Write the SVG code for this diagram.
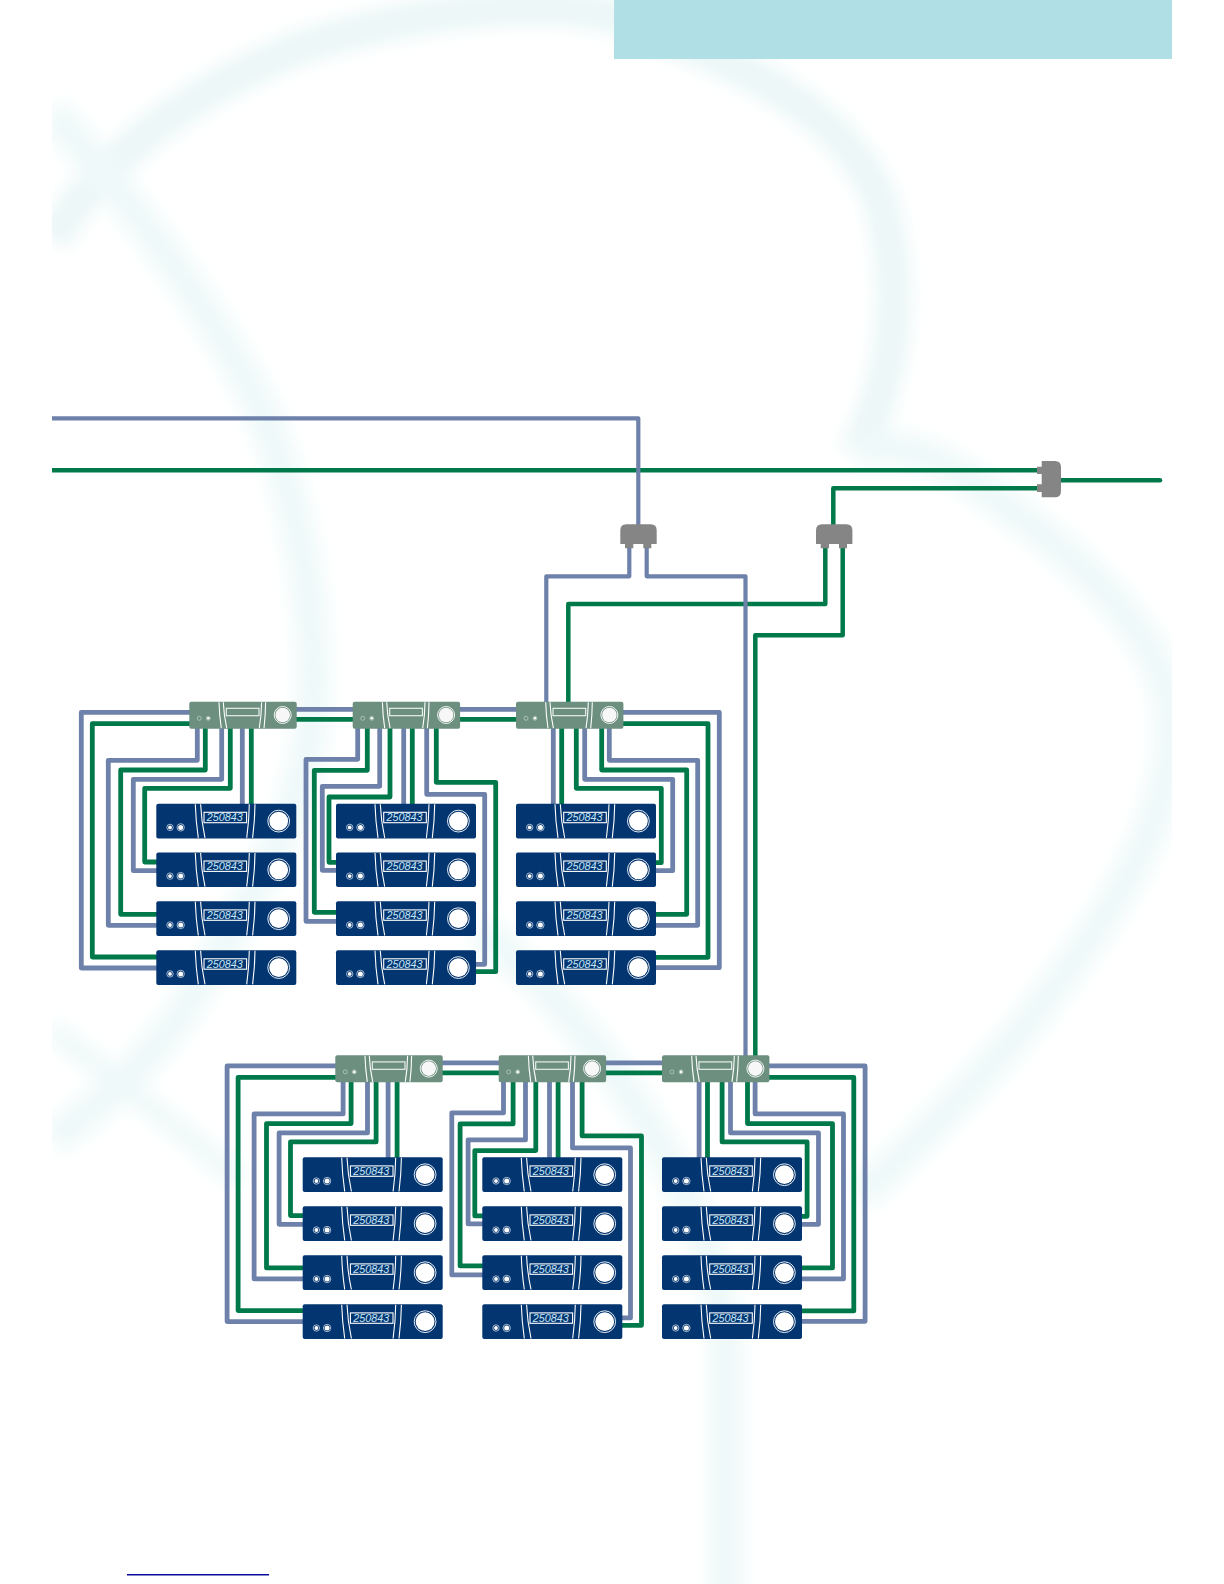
<svg xmlns="http://www.w3.org/2000/svg" width="1224" height="1584" viewBox="0 0 1224 1584">
<style>
.b{fill:none;stroke:#6d81aa;stroke-width:4.8;stroke-linejoin:round}
.g{fill:none;stroke:#00794a;stroke-width:4.8;stroke-linejoin:round}
.mb{stroke-width:4.2}
.mg{stroke-width:4.5}
.wm{fill:none;stroke:#f0f9f9;stroke-width:36}
.ln{fill:none;stroke:#fff;stroke-width:1.1}
.lcd{font-family:"Liberation Sans",Arial,sans-serif;font-style:italic;font-size:10.8px;fill:#c4e6f8}
.sp{fill:#858585}
</style>
<defs>
<filter id="soft" x="-10%" y="-10%" width="120%" height="120%"><feGaussianBlur stdDeviation="8"/></filter>
<clipPath id="page"><rect x="52" y="0" width="1120" height="1584"/></clipPath>
<g id="meter">
<rect width="140" height="34.7" rx="2" fill="#033570"/>
<circle cx="13.7" cy="23.7" r="3.2" fill="none" stroke="#dfeaf3" stroke-width=".7"/><circle cx="13.7" cy="23.7" r="1.9" fill="#fff"/>
<circle cx="24.4" cy="23.7" r="3.7" fill="none" stroke="#dfeaf3" stroke-width=".7"/><circle cx="24.4" cy="23.7" r="2.5" fill="#fff"/>
<path class="ln" d="M39 0.5Q39.500 17 42 34.200M44.300 0.500Q45 17 48.700 34.200M98.700 0.500Q98.500 17 96.300 34.200M93 0.500Q92.800 17 90.400 34.200"/>
<rect x="47.700" y="8.600" width="42.600" height="10.400" fill="#033570" stroke="#fff" stroke-width="1.100"/>
<circle cx="122.400" cy="17.400" r="9.400" fill="#fff"/><circle cx="122.400" cy="17.400" r="10.900" fill="none" stroke="#fff" stroke-width=".9"/>
</g>
<g id="hub">
<rect width="107.400" height="27" rx="2" fill="#6c8f80"/>
<circle cx="10" cy="16.600" r="2" fill="none" stroke="#cfded8" stroke-width=".6"/><circle cx="19" cy="16.600" r="2" fill="none" stroke="#cfded8" stroke-width=".6"/><circle cx="19" cy="16.600" r="1.300" fill="#fff"/>
<path class="ln" d="M29.700 .5Q30 13 32 26.500M34 .5Q34.500 13 37.400 26.500M76.300 .5Q76.200 13 74.700 26.500M72.300 .5Q72.200 13 70 26.500"/>
<rect x="37" y="6.600" width="32.700" height="7.400" fill="#6c8f80" stroke="#f1f6f4" stroke-width="1.100"/>
<circle cx="93.400" cy="13.300" r="7.300" fill="#f7f7f7"/><circle cx="93.400" cy="13.300" r="8.500" fill="none" stroke="#fff" stroke-width=".9"/>
</g>
<path id="splitter" class="sp" d="M0 19.700V6Q0 0 6 0H30.400Q36.400 0 36.400 6V19.700H31V24H23V19.700H13V24H4.700V19.700Z"/>
</defs>

<g id="watermark" clip-path="url(#page)">
<g filter="url(#soft)">
<path class="wm" style="stroke:#ecf7f7" d="M52 240C100 160 190 90 300 48C400 14 560 -10 640 25C720 60 840 100 880 200C905 290 895 380 855 455"/>
<path class="wm" d="M52 112C120 190 200 290 258 402C300 500 318 620 312 710C305 820 250 900 180 1016C140 1070 100 1105 52 1140"/>
<path class="wm" d="M480 930C500 945 525 968 546 990C640 1090 720 1230 726 1348L726 1600"/>
<path class="wm" d="M855 455C900 430 960 470 1015 513C1100 575 1170 650 1171 720C1175 830 1100 930 1015 1038C960 1100 900 1160 859 1196"/>
<path class="wm" style="stroke-width:24" d="M52 1030C110 1075 170 1120 240 1180"/>
</g>
</g>

<rect id="title-band" x="614" y="0" width="558" height="59" fill="#b0e0e5"/>

<g id="connectors">
<g id="mains-green">
<path class="g mg" d="M52 470.300H1040"/>
<path class="g mg" d="M1040 488.300H833.300V526"/>
<path class="g mg" d="M1060 480.300H1160" stroke-linecap="round"/>
<path class="g mg" d="M825.300 546V604H568.300V704"/>
<path class="g mg" d="M842.700 546V635.300H755.300V1057"/>
</g>
<g id="mains-blue">
<path class="b mb" d="M52 418.300H638.300V526"/>
<path class="b mb" d="M629.300 546V576.300H546.300V704"/>
<path class="b mb" d="M646.700 546V576.300H745.500V1057"/>
</g>
<g id="wiring-upper">
<path class="b" d="M295 709.300H355M458 709.300H518"/>
<path class="g" d="M295 719.300H355M458 719.300H518"/>
<path class="b" d="M191 712.300H81.300V968H158"/>
<path class="g" d="M191 723.700H92.300V957H158"/>
<path class="b" d="M197.300 727V760.300H108.300V925.300H158"/>
<path class="g" d="M205.300 727V770H120.700V914.300H158"/>
<path class="b" d="M221.700 727V779.300H133.300V870.700H158"/>
<path class="g" d="M230.300 727V788.300H144.700V862H158"/>
<path class="b" d="M242.300 727V806"/>
<path class="g" d="M251.300 727V806"/>
<path class="b" d="M357.700 727V759.300H306V921.300H338"/>
<path class="g" d="M367.300 727V770.300H314.300V912.300H338"/>
<path class="b" d="M379.700 727V786.300H322.300V870.300H338"/>
<path class="g" d="M390 727V797H329V862.300H338"/>
<path class="b" d="M403.700 727V806"/>
<path class="g" d="M412.300 727V806"/>
<path class="b" d="M426.700 727V794.300H484.700V964.300H474"/>
<path class="g" d="M436.300 727V782.300H495.700V971.700H474"/>
<path class="b" d="M553.300 727V806"/>
<path class="g" d="M561.700 727V806"/>
<path class="g" d="M576.300 727V788.300H661.300V862.700H654"/>
<path class="b" d="M584.700 727V779.300H672.700V870.700H654"/>
<path class="g" d="M601.700 727V770H686.700V914.300H654"/>
<path class="b" d="M609.300 727V760.300H697.700V925.300H654"/>
<path class="g" d="M621 723.700H708V957.300H654"/>
<path class="b" d="M621 712.300H719.300V967.700H654"/>
</g>
<g id="wiring-lower" transform="translate(145.800,353.600)">
<path class="b" d="M295 709.300H355M458 709.300H518"/>
<path class="g" d="M295 719.300H355M458 719.300H518"/>
<path class="b" d="M191 712.300H81.300V968H158"/>
<path class="g" d="M191 723.700H92.300V957H158"/>
<path class="b" d="M197.300 727V760.300H108.300V925.300H158"/>
<path class="g" d="M205.300 727V770H120.700V914.300H158"/>
<path class="b" d="M221.700 727V779.300H133.300V870.700H158"/>
<path class="g" d="M230.300 727V788.300H144.700V862H158"/>
<path class="b" d="M242.300 727V806"/>
<path class="g" d="M251.300 727V806"/>
<path class="b" d="M357.700 727V759.300H306V921.300H338"/>
<path class="g" d="M367.300 727V770.300H314.300V912.300H338"/>
<path class="b" d="M379.700 727V786.300H322.300V870.300H338"/>
<path class="g" d="M390 727V797H329V862.300H338"/>
<path class="b" d="M403.700 727V806"/>
<path class="g" d="M412.300 727V806"/>
<path class="b" d="M426.700 727V794.300H484.700V964.300H474"/>
<path class="g" d="M436.300 727V782.300H495.700V971.700H474"/>
<path class="b" d="M553.300 727V806"/>
<path class="g" d="M561.700 727V806"/>
<path class="g" d="M576.300 727V788.300H661.300V862.700H654"/>
<path class="b" d="M584.700 727V779.300H672.700V870.700H654"/>
<path class="g" d="M601.700 727V770H686.700V914.300H654"/>
<path class="b" d="M609.300 727V760.300H697.700V925.300H654"/>
<path class="g" d="M621 723.700H708V957.300H654"/>
<path class="b" d="M621 712.300H719.300V967.700H654"/>
</g>
</g>

<g id="splitter-a" transform="translate(620.300,524.300)"><use href="#splitter"/></g>
<g id="splitter-b" transform="translate(816,524.300)"><use href="#splitter"/></g>
<g id="splitter-c"><path class="sp" d="M1041.700 461H1055Q1061 461 1061 467V491Q1061 497.300 1055 497.300H1041.700V492H1037V484.300H1041.700V474H1037V466.700H1041.700Z"/></g>

<g id="hub-1" transform="translate(189.300,701.700)"><use href="#hub"/></g>
<g id="hub-2" transform="translate(352.700,701.700)"><use href="#hub"/></g>
<g id="hub-3" transform="translate(516,701.700)"><use href="#hub"/></g>
<g id="hub-4" transform="translate(335.300,1055.300)"><use href="#hub"/></g>
<g id="hub-5" transform="translate(498.700,1055.300)"><use href="#hub"/></g>
<g id="hub-6" transform="translate(662,1055.300)"><use href="#hub"/></g>

<g id="meter-1-1" transform="translate(156.300,803.700)"><use href="#meter"/><text class="lcd" x="50.500" y="17.700">250843</text></g>
<g id="meter-1-2" transform="translate(156.300,852.400)"><use href="#meter"/><text class="lcd" x="50.500" y="17.700">250843</text></g>
<g id="meter-1-3" transform="translate(156.300,901.300)"><use href="#meter"/><text class="lcd" x="50.500" y="17.700">250843</text></g>
<g id="meter-1-4" transform="translate(156.300,950.200)"><use href="#meter"/><text class="lcd" x="50.500" y="17.700">250843</text></g>
<g id="meter-2-1" transform="translate(336,803.700)"><use href="#meter"/><text class="lcd" x="50.500" y="17.700">250843</text></g>
<g id="meter-2-2" transform="translate(336,852.400)"><use href="#meter"/><text class="lcd" x="50.500" y="17.700">250843</text></g>
<g id="meter-2-3" transform="translate(336,901.300)"><use href="#meter"/><text class="lcd" x="50.500" y="17.700">250843</text></g>
<g id="meter-2-4" transform="translate(336,950.200)"><use href="#meter"/><text class="lcd" x="50.500" y="17.700">250843</text></g>
<g id="meter-3-1" transform="translate(516,803.700)"><use href="#meter"/><text class="lcd" x="50.500" y="17.700">250843</text></g>
<g id="meter-3-2" transform="translate(516,852.400)"><use href="#meter"/><text class="lcd" x="50.500" y="17.700">250843</text></g>
<g id="meter-3-3" transform="translate(516,901.300)"><use href="#meter"/><text class="lcd" x="50.500" y="17.700">250843</text></g>
<g id="meter-3-4" transform="translate(516,950.200)"><use href="#meter"/><text class="lcd" x="50.500" y="17.700">250843</text></g>
<g id="meter-4-1" transform="translate(302.700,1157.300)"><use href="#meter"/><text class="lcd" x="50.500" y="17.700">250843</text></g>
<g id="meter-4-2" transform="translate(302.700,1206.300)"><use href="#meter"/><text class="lcd" x="50.500" y="17.700">250843</text></g>
<g id="meter-4-3" transform="translate(302.700,1255.300)"><use href="#meter"/><text class="lcd" x="50.500" y="17.700">250843</text></g>
<g id="meter-4-4" transform="translate(302.700,1304.300)"><use href="#meter"/><text class="lcd" x="50.500" y="17.700">250843</text></g>
<g id="meter-5-1" transform="translate(482.300,1157.300)"><use href="#meter"/><text class="lcd" x="50.500" y="17.700">250843</text></g>
<g id="meter-5-2" transform="translate(482.300,1206.300)"><use href="#meter"/><text class="lcd" x="50.500" y="17.700">250843</text></g>
<g id="meter-5-3" transform="translate(482.300,1255.300)"><use href="#meter"/><text class="lcd" x="50.500" y="17.700">250843</text></g>
<g id="meter-5-4" transform="translate(482.300,1304.300)"><use href="#meter"/><text class="lcd" x="50.500" y="17.700">250843</text></g>
<g id="meter-6-1" transform="translate(662,1157.300)"><use href="#meter"/><text class="lcd" x="50.500" y="17.700">250843</text></g>
<g id="meter-6-2" transform="translate(662,1206.300)"><use href="#meter"/><text class="lcd" x="50.500" y="17.700">250843</text></g>
<g id="meter-6-3" transform="translate(662,1255.300)"><use href="#meter"/><text class="lcd" x="50.500" y="17.700">250843</text></g>
<g id="meter-6-4" transform="translate(662,1304.300)"><use href="#meter"/><text class="lcd" x="50.500" y="17.700">250843</text></g>

<rect id="footer-rule" x="127" y="1574" width="142" height="1.500" fill="#0c0c9a"/>
</svg>
